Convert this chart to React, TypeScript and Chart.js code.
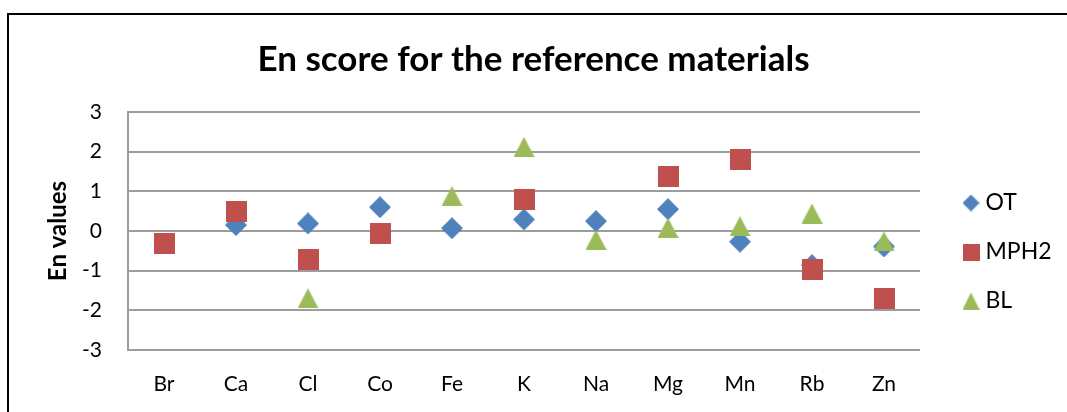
import React, { useEffect, useRef } from 'react';
import { Chart, registerables } from 'chart.js';

Chart.register(...registerables);

// ---- data ----
const categories = ['Br', 'Ca', 'Cl', 'Co', 'Fe', 'K', 'Na', 'Mg', 'Mn', 'Rb', 'Zn'];
const otValues = [null, 0.15, 0.19, 0.6, 0.07, 0.29, 0.25, 0.55, -0.27, -0.86, -0.39];
const mph2Values = [-0.31, 0.49, -0.71, -0.06, null, 0.8, null, 1.37, 1.8, -0.98, -1.7];
const blValues = [null, null, -1.7, null, 0.88, 2.12, -0.22, 0.08, 0.12, 0.44, -0.26];
const seriesNames = ['OT', 'MPH2', 'BL'];
const yTicks = [-3, -2, -1, 0, 1, 2, 3];
const chartTitle = 'En score for the reference materials';
const yAxisTitle = 'En values';

const COLORS = ['#4F81BD', '#C0504D', '#9BBB59'];
const FONT = 'Lato';

function makeMarker(shape: string, w: number, h: number, color: string): HTMLCanvasElement {
  const c = document.createElement('canvas');
  c.width = w;
  c.height = h;
  const ctx = c.getContext('2d')!;
  ctx.fillStyle = color;
  ctx.beginPath();
  if (shape === 'diamond') {
    ctx.moveTo(w / 2, 0);
    ctx.lineTo(w, h / 2);
    ctx.lineTo(w / 2, h);
    ctx.lineTo(0, h / 2);
  } else if (shape === 'triangle') {
    ctx.moveTo(w / 2, 0);
    ctx.lineTo(w, h);
    ctx.lineTo(0, h);
  } else {
    ctx.rect(0, 0, w, h);
  }
  ctx.closePath();
  ctx.fill();
  return c;
}

export default function App() {
  const ref = useRef<HTMLCanvasElement | null>(null);

  useEffect(() => {
    if (!ref.current) return;
    const shapes = ['diamond', 'square', 'triangle'];
    const chartMarkers = [
      makeMarker('diamond', 22, 22, COLORS[0]),
      makeMarker('square', 21, 21, COLORS[1]),
      makeMarker('triangle', 21, 20, COLORS[2]),
    ];
    const legendMarkers = shapes.map((s, i) => makeMarker(s, 17, 17, COLORS[i]));
    const seriesValues = [otValues, mph2Values, blValues];

    const legendShift = {
      id: 'legendShift',
      afterLayout(chart: any) {
        const lg = chart.legend;
        const area = chart.chartArea;
        if (!lg) return;
        lg.left = area.right + 22;
        lg.right = lg.left + lg.width;
        lg.top = area.top + 21;
        lg.bottom = area.bottom + 21;
        lg.height = lg.bottom - lg.top;
      },
    };

    const chart = new Chart(ref.current, {
      type: 'line',
      data: {
        labels: categories,
        datasets: seriesValues.map((vals, i) => ({
          label: seriesNames[i],
          data: vals,
          showLine: false,
          pointStyle: chartMarkers[i] as any,
          pointRadius: 10,
          pointHoverRadius: 10,
          backgroundColor: COLORS[i],
          borderColor: COLORS[i],
          order: 3 - i,
        })),
      },
      plugins: [legendShift],
      options: {
        responsive: false,
        animation: false,
        events: [],
        layout: { padding: 0 },
        plugins: {
          tooltip: { enabled: false },
          title: {
            display: true,
            text: chartTitle,
            color: '#000',
            font: { family: FONT, size: 35, weight: 'bold' },
            padding: { top: 39, bottom: 31 },
          },
          legend: {
            display: true,
            position: 'chartArea' as any,
            align: 'center',
            labels: {
              usePointStyle: true,
              pointStyleWidth: 6,
              padding: 26,
              color: '#000',
              font: { family: FONT, size: 23 },
              generateLabels: () =>
                seriesNames.map((name, i) => ({
                  text: name,
                  pointStyle: legendMarkers[i] as any,
                  fillStyle: COLORS[i],
                  strokeStyle: COLORS[i],
                  lineWidth: 0,
                  hidden: false,
                  datasetIndex: i,
                  fontColor: '#000',
                })),
            },
          },
        },
        scales: {
          x: {
            type: 'category',
            offset: true,
            grid: { display: false, drawTicks: false },
            border: { display: false },
            ticks: {
              color: '#000',
              padding: 22,
              font: { family: FONT, size: 21 },
              maxRotation: 0,
            },
            afterFit: (s: any) => {
              s.height = 62;
            },
          },
          y: {
            min: -3,
            max: 3,
            afterBuildTicks: (s: any) => {
              s.ticks = yTicks.map((v) => ({ value: v }));
            },
            grid: { color: '#9d9d9d', lineWidth: 2, drawTicks: false },
            border: { display: true, color: '#9d9d9d', width: 2 },
            ticks: {
              color: '#000',
              padding: 26,
              font: { family: FONT, size: 21 },
            },
            title: {
              display: true,
              text: yAxisTitle,
              color: '#000',
              font: { family: FONT, size: 24, weight: 'bold' },
              padding: { top: 44, bottom: 0 },
            },
            afterFit: (s: any) => {
              s.width = 128;
            },
          },
          // reserves the space on the right where the legend sits
          legendSpace: {
            type: 'linear',
            position: 'right',
            min: -3,
            max: 3,
            grid: { display: false, drawTicks: false },
            border: { display: false },
            ticks: { display: false },
            afterFit: (s: any) => {
              s.width = 147;
            },
          },
        },
      },
    });
    return () => chart.destroy();
  }, []);

  return (
    <div
      style={{
        position: 'fixed',
        left: 0,
        top: 0,
        width: 1067,
        height: 412,
        overflow: 'hidden',
        background: '#fff',
      }}
    >
      <canvas ref={ref} width={1067} height={412} style={{ position: 'absolute', left: 0, top: 0 }} />
      <div
        style={{
          position: 'absolute',
          left: 7,
          top: 13,
          width: 1120,
          height: 460,
          border: '2px solid #000',
          pointerEvents: 'none',
        }}
      />
    </div>
  );
}
